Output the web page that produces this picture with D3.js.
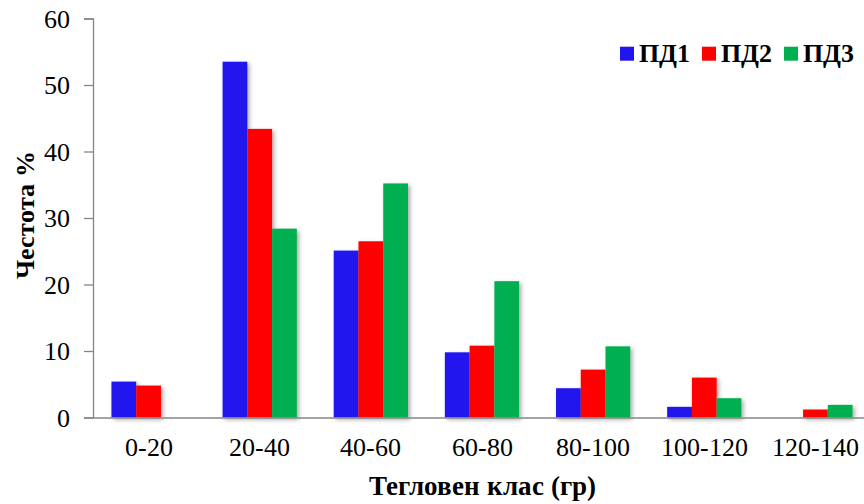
<!DOCTYPE html>
<html><head><meta charset="utf-8">
<script src="https://cdn.jsdelivr.net/npm/d3@7"></script>
<style>
@font-face{font-family:"SerifX";font-weight:normal;src:local("Liberation Serif"),local("LiberationSerif"),local("LiberationSerif-Regular"),local("Times New Roman"),local("DejaVu Serif"),local("DejaVuSerif"),local("Noto Serif"),local("NotoSerif-Regular");}
@font-face{font-family:"SerifX";font-weight:bold;src:local("Liberation Serif Bold"),local("LiberationSerif-Bold"),local("Times New Roman Bold"),local("DejaVu Serif Bold"),local("DejaVuSerif-Bold"),local("Noto Serif Bold"),local("NotoSerif-Bold");}
body{margin:0;background:#fff}svg{display:block}
</style>
</head><body>
<script>
const categories = ["0-20","20-40","40-60","60-80","80-100","100-120","120-140"];
const seriesNames = ["ПД1","ПД2","ПД3"];
const pd1 = [5.4, 53.5, 25.1, 9.8, 4.4, 1.6, 0];
const pd2 = [4.8, 43.4, 26.5, 10.8, 7.2, 6.0, 1.2];
const pd3 = [0, 28.4, 35.2, 20.5, 10.7, 2.9, 1.9];
const yTicks = [0,10,20,30,40,50,60];
const colors = ["#2015EE","#FF0000","#00AF50"];
const seriesValues = [pd1, pd2, pd3];

const FONT = 'SerifX,"Liberation Serif","Times New Roman",Times,Tinos,"Noto Serif","DejaVu Serif",serif';
const W = 864, H = 504;
const svg = d3.select("body").append("svg").attr("width", W).attr("height", H).attr("font-family", FONT);
const defs = svg.append("defs");
const f = defs.append("filter").attr("id","sh").attr("x","-20%").attr("y","-20%").attr("width","150%").attr("height","150%");
f.append("feDropShadow").attr("dx",2).attr("dy",2).attr("stdDeviation",2).attr("flood-color","#000").attr("flood-opacity",0.35);

const mLeft = 93, mRight = 871, mTop = 18.5, mBottom = 417.5;
const x = d3.scaleBand().domain(categories).range([mLeft, mRight]).paddingInner(0.332).paddingOuter(0.166);
const xs = d3.scaleBand().domain(seriesNames).range([0, x.bandwidth()]);
const y = d3.scaleLinear().domain([0, 60]).range([mBottom, mTop]);

const data = [];
categories.forEach((c, i) => seriesNames.forEach((s, j) => {
  if (seriesValues[j][i] > 0) data.push({c, s, v: seriesValues[j][i], j});
}));

svg.append("g").attr("filter","url(#sh)").selectAll("rect").data(data).enter().append("rect")
  .attr("x", d => x(d.c) + xs(d.s))
  .attr("y", d => y(d.v))
  .attr("width", xs.bandwidth())
  .attr("height", d => y(0) - y(d.v))
  .attr("fill", d => colors[d.j]);

// y axis
const ya = svg.append("g").attr("transform", `translate(${mLeft},0)`)
  .call(d3.axisLeft(y).tickValues(yTicks).tickSize(9).tickPadding(14));
ya.attr("font-family", FONT);
ya.select(".domain").attr("stroke","#868686").attr("stroke-width",1.3);
ya.selectAll(".tick line").attr("stroke","#868686").attr("stroke-width",1.3);
ya.selectAll(".tick text").attr("font-size",26).attr("fill","#000").style("font-family", FONT).attr("dy","0.34em");

// x axis
const xa = svg.append("g").attr("transform", `translate(0,${mBottom})`)
  .call(d3.axisBottom(x).tickSize(0).tickPadding(20));
xa.attr("font-family", FONT);
xa.select(".domain").attr("stroke","#868686").attr("stroke-width",1.3);
xa.selectAll(".tick text").attr("font-size",26).attr("fill","#000").style("font-family", FONT);

// titles
svg.append("text").attr("x", 482).attr("y", 495).attr("text-anchor","middle").style("font-family", FONT)
  .attr("font-size",27).attr("font-weight","bold").text("Тегловен клас (гр)");
svg.append("text").attr("transform","translate(34,215) rotate(-90)").attr("text-anchor","middle").style("font-family", FONT)
  .attr("font-size",26).attr("font-weight","bold").text("Честота %");

// legend
const legX = [620, 702, 784];
const lg = svg.append("g");
seriesNames.forEach((s, j) => {
  lg.append("rect").attr("x", legX[j]).attr("y", 46.7).attr("width", 14).attr("height", 14).attr("fill", colors[j]);
  lg.append("text").attr("x", legX[j] + 19).attr("y", 62).style("font-family", FONT).attr("font-size",26).attr("font-weight","bold").text(s);
});
</script>
</body></html>
